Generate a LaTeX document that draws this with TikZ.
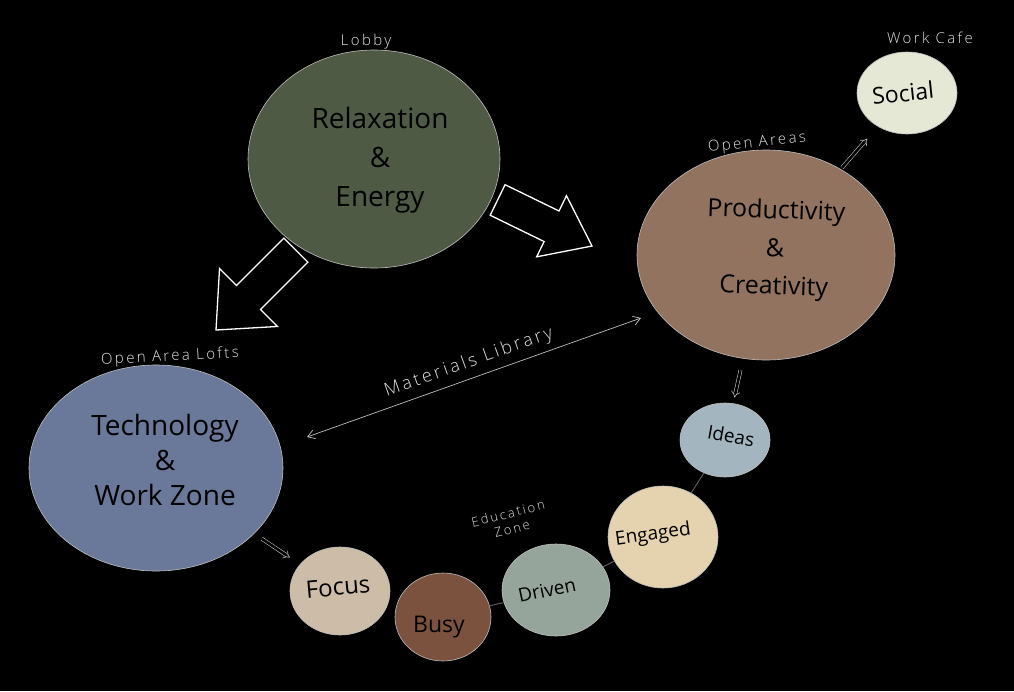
\documentclass[tikz,border=0pt]{standalone}
\usepackage{fontspec}
\setmainfont{Open Sans}
\newfontfamily\widefont[LetterSpace=16]{Open Sans Light}
\usetikzlibrary{arrows.meta,calc,shapes.geometric}
\definecolor{cGreen}{RGB}{78,90,68}
\definecolor{cBrown}{RGB}{145,115,95}
\definecolor{cBlue}{RGB}{106,121,153}
\definecolor{cSocial}{RGB}{228,232,212}
\definecolor{cIdeas}{RGB}{163,181,190}
\definecolor{cEngaged}{RGB}{229,210,175}
\definecolor{cDriven}{RGB}{150,165,155}
\definecolor{cBusy}{RGB}{122,82,62}
\definecolor{cFocus}{RGB}{205,189,168}
\definecolor{cEdge}{RGB}{190,190,190}
\begin{document}
\begin{tikzpicture}[x=1pt,y=-1pt,
  blob/.style={ellipse, draw=cEdge, line width=0.6pt, inner sep=0pt},
  bigtext/.style={text=black, align=center, font=\fontsize{25}{38}\selectfont},
  smalltext/.style={text=black, font=\fontsize{19}{22}\selectfont},
  tag/.style={text=white!88!black, font=\widefont\fontsize{15}{17}\selectfont, align=center},
  link/.style={draw=black!65!white, line width=1pt},
  hollow/.style={draw=cEdge, line width=0.6pt, double=black, double distance=2.6pt, -{Implies}},
  bigarrow/.style={draw=white, line width=1.3pt, fill=black, line join=miter},
  thinarrow/.style={draw=cEdge, line width=0.7pt, {Straight Barb[length=7pt,width=9pt]}-{Straight Barb[length=7pt,width=9pt]}}
]
\fill[black] (0,0) rectangle (1014,691);
\useasboundingbox (0,0) rectangle (1014,691);

% big ellipses
\node[blob, fill=cGreen, minimum width=252pt, minimum height=218pt] (relax) at (374,159) {};
\node[blob, fill=cBrown, minimum width=258pt, minimum height=210pt] (prod) at (766,255) {};
\node[blob, fill=cBlue, minimum width=254pt, minimum height=206pt] (tech) at (156,468) {};

% small ellipses
\node[blob, fill=cSocial, minimum width=100pt, minimum height=82pt] (social) at (907,93) {};
\node[blob, fill=cIdeas, minimum width=90pt, minimum height=74pt] (ideas) at (725,440) {};
\node[blob, fill=cEngaged, minimum width=110pt, minimum height=102pt] (engaged) at (663,537) {};
\node[blob, fill=cDriven, minimum width=108pt, minimum height=92pt] (driven) at (556,590) {};
\node[blob, fill=cBusy, minimum width=96pt, minimum height=88pt] (busy) at (443,617) {};
\node[blob, fill=cFocus, minimum width=100pt, minimum height=88pt] (focus) at (340,591) {};

% connectors between small circles
\draw[link] (ideas) -- (engaged);
\draw[link] (engaged) -- (driven);
\draw[link] (driven) -- (busy);

% texts in big ellipses
\node[bigtext, font=\fontsize{28}{39}\selectfont] (relaxT) at (380,160) {Relaxation\\\&\\Energy};
\node[bigtext, rotate=-2] (prodT) at (775,250) {Productivity\\\&\\Creativity};
\node[bigtext, font=\fontsize{28}{35}\selectfont] (techT) at (165,460) {Technology\\\&\\Work Zone};

% texts in small ellipses
\node[smalltext, rotate=6, font=\fontsize{23}{26}\selectfont] (socialT) at (903,93) {Social};
\node[smalltext, rotate=-10] (ideasT) at (731,436) {Ideas};
\node[smalltext, rotate=8] (engagedT) at (653,535) {Engaged};
\node[smalltext, rotate=12] (drivenT) at (547,590) {Driven};
\node[smalltext, font=\fontsize{23}{26}\selectfont] (busyT) at (439,627) {Busy};
\node[smalltext, rotate=5, font=\fontsize{24}{26}\selectfont] (focusT) at (338,587) {Focus};

% area tags
\node[tag] (lobby) at (366,42) {Lobby};
\node[tag] (cafe) at (930,38) {Work Cafe};
\node[tag, rotate=6] (open) at (757,143) {Open Areas};
\node[tag, rotate=3] (lofts) at (170,357) {Open Area Lofts};
\node[tag, rotate=14, font=\widefont\fontsize{13}{16}\selectfont] (edu) at (510,521) {Education\\Zone};

% big block arrows
\coordinate (a1tip) at (216,330);
\draw[bigarrow, shift={(a1tip)}, rotate=225]
  (0,0) -- (-46,41) -- (-46,17) -- (-113,17) -- (-113,-17) -- (-46,-17) -- (-46,-41) -- cycle;
\coordinate (a2tip) at (592,246);
\draw[bigarrow, shift={(a2tip)}, rotate=-26]
  (0,0) -- (-45,34) -- (-45,17) -- (-105,17) -- (-105,-17) -- (-45,-17) -- (-45,-34) -- cycle;

% hollow arrows
\draw[hollow, shorten <=9pt, shorten >=12pt] (tech) -- (focus);
\draw[hollow, shorten <=12pt, shorten >=6pt] (prod) -- (ideas);
\draw[hollow, shorten <=2pt, shorten >=16pt] (prod) -- (social);

% materials library
\coordinate (mlA) at (307,437);
\coordinate (mlB) at (641,318);
\draw[thinarrow] (mlA) -- node[sloped, above=3pt, tag, font=\widefont\fontsize{18}{20}\selectfont] (mlT) {Materials Library} (mlB);
\end{tikzpicture}
\end{document}
